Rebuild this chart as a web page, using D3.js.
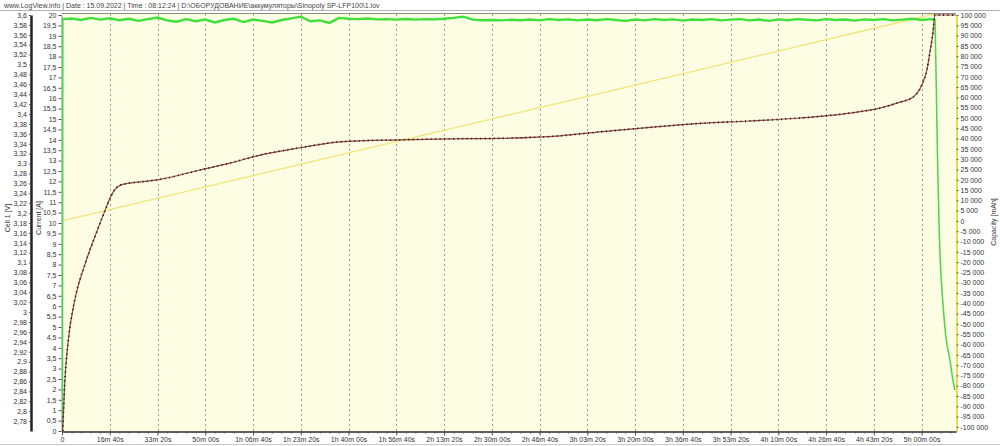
<!DOCTYPE html>
<html>
<head>
<meta charset="utf-8">
<script src="https://cdn.jsdelivr.net/npm/d3@7"></script>
<style>
  body { margin: 0; background: #fff; }
  text { font-family: "Liberation Sans Narrow", "Arial Narrow", "Liberation Sans", sans-serif; fill: #333; }
</style>
</head>
<body>
<svg id="chart" width="1000" height="446"></svg>
<script>
// time in seconds since start of charge
var currentTime = [0, 8, 200, 400, 600, 800, 1000, 1200, 1400, 1600, 1800, 2000, 2200, 2400, 2600, 2800, 3000,
  3200, 3400, 3600, 3800, 4000, 4200, 4400, 4600, 4800, 5000, 5200, 5400, 5600, 5800, 6000, 6200, 6400, 6600,
  6800, 7000, 7200, 7400, 7600, 7800, 8000, 8200, 8400, 8600, 8800, 9000, 9200, 9400, 9600, 9800, 10000, 10200,
  10400, 10600, 10800, 11000, 11200, 11400, 11600, 11800, 12000, 12200, 12400, 12600, 12800, 13000, 13200, 13400,
  13600, 13800, 14000, 14200, 14400, 14600, 14800, 15000, 15200, 15400, 15600, 15800, 16000, 16200, 16400, 16600,
  16800, 17000, 17200, 17400, 17600, 17800, 18000, 18200, 18280]
var currentAmps = [0, 19.8, 19.83, 19.76, 19.86, 19.78, 19.84, 19.75, 19.82, 19.72, 19.8, 19.88, 19.74, 19.68, 19.8, 19.7, 19.78,
  19.64, 19.76, 19.82, 19.66, 19.78, 19.72, 19.64, 19.76, 19.84, 19.92, 19.7, 19.74, 19.62, 19.86, 19.82, 19.8, 19.83, 19.79,
  19.8, 19.78, 19.81, 19.78, 19.8, 19.79, 19.82, 19.86, 19.92, 19.78, 19.75, 19.76, 19.74, 19.77, 19.75, 19.78, 19.74, 19.8,
  19.76, 19.79, 19.74, 19.78, 19.75, 19.8, 19.76, 19.72, 19.78, 19.74, 19.8, 19.76, 19.79, 19.73, 19.78, 19.76,
  19.8, 19.74, 19.78, 19.8, 19.74, 19.78, 19.72, 19.79, 19.75, 19.8, 19.77, 19.74, 19.8, 19.76, 19.78, 19.73,
  19.79, 19.76, 19.8, 19.74, 19.78, 19.82, 19.76, 19.8, 19.78]
// constant voltage tail
var tailTime = [18280, 18300, 18330, 18363, 18384, 18446, 18509, 18593, 18656, 18697]
var tailAmps = [19.78, 17.5, 13.5, 10.1, 8.56, 6.15, 4.52, 3.41, 2.45, 1.97]

var voltageTime = [15, 57, 126, 266, 482, 691, 900, 1005, 1110, 1214, 1320, 1633, 2052, 2471, 2889, 3518, 4146, 4983, 5821,
  7077, 8124, 9171, 10427, 11265, 12311, 13358, 14405, 15452, 16499, 17127, 17546, 17818, 18007, 18111, 18174,
  18237, 18279, 18720]
var voltageVolts = [2.76, 2.857, 2.938, 3.024, 3.097, 3.153, 3.205, 3.23, 3.248, 3.256, 3.259, 3.263, 3.268, 3.277, 3.287, 3.301, 3.317, 3.332, 3.344,
  3.348, 3.35, 3.351, 3.356, 3.364, 3.373, 3.381, 3.386, 3.392, 3.402, 3.412, 3.424, 3.434, 3.459, 3.489, 3.525,
  3.564, 3.6, 3.6]

var capacityTime = [0, 6000, 12000, 18180, 18720]
var capacityMah = [0, 33000, 66000, 100000, 102500]

var voltageTicks = d3.range(139, 181).map(d => d / 50)     // 2.78 .. 3.6
var currentTicks = d3.range(0, 41).map(d => d / 2)          // 0 .. 20
var capacityTicks = d3.range(-20, 21).map(d => d * 5000)    // -100000 .. 100000
var timeTicks = d3.range(0, 19).map(d => d * 1000)
var timeMinorTicks = d3.range(0, 94).map(d => d * 200)

var headerText = "www.LogView.info   |   Date : 15.09.2022   |   Time : 08:12:24   |   D:\\ОБОРУДОВАНИЕ\\аккумуляторы\\Sinopoly SP-LFP100\\1.lov"

var plot = { left: 62, right: 956, top: 13, bottom: 431 }

var x = d3.scaleLinear().domain([0, 18720]).range([plot.left, plot.right])
var yV = d3.scaleLinear().domain([2.76, 3.6]).range([plot.bottom, 15])
var yA = d3.scaleLinear().domain([0, 20]).range([plot.bottom, 15])
var yC = d3.scaleLinear().domain([-102000, 100000]).range([plot.bottom, 15])

var comma = s => s.replace(".", ",")
var capLocale = d3.formatLocale({ decimal: ",", thousands: " ", grouping: [3], currency: ["", ""], minus: "-" })
var capFormat = capLocale.format(",d")

function timeFormat(t) {
  if (t === 0) return "0"
  var h = Math.floor(t / 3600), m = Math.floor((t % 3600) / 60), s = t % 60
  var pad = n => String(n).padStart(2, "0")
  if (h > 0) return h + "h " + pad(m) + "m " + pad(s) + "s"
  return m + "m " + pad(s) + "s"
}

var svg = d3.select("#chart")

// header
svg.append("text").attr("x", 4).attr("y", 7.5).style("font-size", "7px").style("fill", "#444").text(headerText)
svg.append("line").attr("x1", 0).attr("x2", 1000).attr("y1", 10.5).attr("y2", 10.5).style("stroke", "#b0b0b0")
svg.append("line").attr("x1", 0).attr("x2", 1000).attr("y1", 444.5).attr("y2", 444.5).style("stroke", "#c8c8c8")

// plot background
svg.append("rect")
  .attr("x", plot.left).attr("y", plot.top)
  .attr("width", plot.right - plot.left).attr("height", plot.bottom - plot.top)
  .style("fill", "#fdfde3")
svg.append("line").attr("x1", plot.left).attr("x2", plot.right).attr("y1", plot.top + 0.5).attr("y2", plot.top + 0.5)
  .style("stroke", "#8a8a8a")

svg.append("clipPath").attr("id", "clip").append("rect")
  .attr("x", plot.left).attr("y", plot.top + 1)
  .attr("width", plot.right - plot.left).attr("height", plot.bottom - plot.top)

// dotted grid
svg.append("g").selectAll("line")
  .data(timeTicks.slice(1))
  .enter().append("line")
  .attr("x1", d => Math.round(x(d)) + 0.5).attr("x2", d => Math.round(x(d)) + 0.5)
  .attr("y1", plot.top + 1).attr("y2", plot.bottom)
  .style("stroke", "#9a9a9a").style("stroke-dasharray", "2,3")

// axes
function styleAxis(g, lineColor, lineWidth) {
  g.selectAll("text").style("font-size", "7px").style("fill", "#333")
  g.selectAll(".tick line").style("stroke", "#555")
  g.select(".domain").style("stroke", lineColor).style("stroke-width", lineWidth)
}

svg.append("g")
  .attr("transform", "translate(31,0)")
  .call(d3.axisLeft(yV).tickValues(voltageTicks).tickSize(2).tickSizeOuter(0).tickPadding(2)
    .tickFormat(d => comma(d3.format("~r")(+d.toFixed(2)))))
  .call(g => styleAxis(g, "#222", 2.5))

svg.append("g")
  .attr("transform", "translate(" + (plot.left - 0.5) + ",0)")
  .call(d3.axisLeft(yA).tickValues(currentTicks).tickSize(3).tickSizeOuter(0).tickPadding(2)
    .tickFormat(d => comma(String(d))))
  .call(g => styleAxis(g, "#888", 1))

svg.append("g")
  .attr("transform", "translate(" + (plot.right + 0.5) + ",0)")
  .call(d3.axisRight(yC).tickValues(capacityTicks).tickSize(2).tickSizeOuter(0).tickPadding(2)
    .tickFormat(capFormat))
  .call(g => styleAxis(g, "#e6dc5a", 2))

svg.append("g")
  .attr("transform", "translate(0," + (plot.bottom + 0.5) + ")")
  .call(d3.axisBottom(x).tickValues(timeMinorTicks).tickSize(2).tickSizeOuter(0).tickFormat(""))
  .call(g => styleAxis(g, "#555", 1.5))

svg.append("g")
  .attr("transform", "translate(0," + (plot.bottom + 0.5) + ")")
  .call(d3.axisBottom(x).tickValues(timeTicks).tickSize(4).tickSizeOuter(0).tickPadding(2).tickFormat(timeFormat))
  .call(g => styleAxis(g, "#555", 1.5))

// axis titles
svg.append("text").attr("transform", "translate(10,218) rotate(-90)")
  .attr("text-anchor", "middle").style("font-size", "7px").text("Cell 1 [V]")
svg.append("text").attr("transform", "translate(41,218) rotate(-90)")
  .attr("text-anchor", "middle").style("font-size", "7px").text("Current [A]")
svg.append("text").attr("transform", "translate(996,222) rotate(-90)")
  .attr("text-anchor", "middle").style("font-size", "7px").text("Capacity [mAh]")

// traces
var traces = svg.append("g").attr("clip-path", "url(#clip)")

var capData = capacityTime.map((t, i) => [t, capacityMah[i]])
traces.append("path")
  .datum(capData)
  .attr("d", d3.line().x(d => x(d[0])).y(d => yC(d[1])))
  .style("fill", "none").style("stroke", "#f2e37a").style("stroke-width", 1.3)

var curData = currentTime.map((t, i) => [t, currentAmps[i]])
traces.append("path")
  .datum(curData)
  .attr("d", d3.line().x(d => x(d[0])).y(d => yA(d[1])))
  .style("fill", "none").style("stroke", "#3ee03a").style("stroke-width", 2.4)

var tailData = tailTime.map((t, i) => [t, tailAmps[i]])
traces.append("path")
  .datum(tailData)
  .attr("d", d3.line().curve(d3.curveMonotoneX).x(d => x(d[0])).y(d => yA(d[1])))
  .style("fill", "none").style("stroke", "#4cd44a").style("stroke-width", 1.5)

var voltData = voltageTime.map((t, i) => [t, voltageVolts[i]])
var voltLine = d3.line().curve(d3.curveMonotoneX).x(d => x(d[0])).y(d => yV(d[1]))
traces.append("path")
  .datum(voltData)
  .attr("d", voltLine)
  .style("fill", "none").style("stroke", "#8b4b42").style("stroke-width", 1.2)
// small point markers along the cell voltage
traces.append("path")
  .datum(voltData)
  .attr("d", voltLine)
  .style("fill", "none").style("stroke", "#3c1010").style("stroke-width", 1.8)
  .style("stroke-dasharray", "1,3.5")
</script>
</body>
</html>
